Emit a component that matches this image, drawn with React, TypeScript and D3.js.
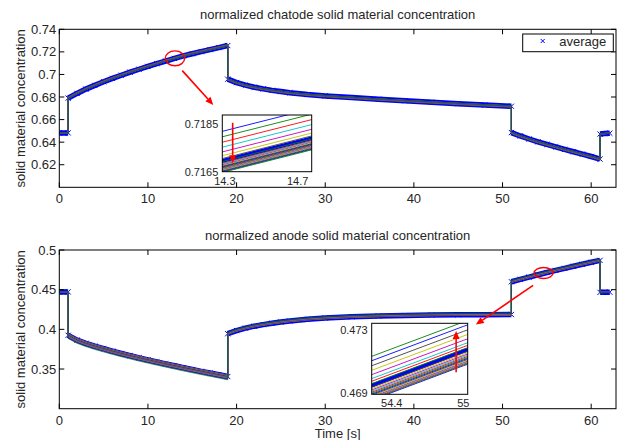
import React from "react";
import * as d3 from "d3";

// sample times [s]; a repeated time marks a current step (jump)
const timeS = [
  0, 0.5, 1,
  1, 2, 3, 4, 5, 6, 7, 8, 9, 10, 11, 12, 13, 14, 15, 16, 17, 18, 19,
  19, 20, 21, 22, 23, 24, 25, 26, 28, 30, 33, 36, 39, 42, 45, 48, 51,
  51, 52, 53, 54, 55, 56, 57, 58, 59, 60, 61,
  61, 61.5, 62.1,
];

const cathodeAvg = [
  0.6482, 0.6482, 0.6482,
  0.679, 0.6832, 0.687, 0.6903, 0.6935, 0.6965, 0.6993, 0.702, 0.7046, 0.7071, 0.7095, 0.7119, 0.7142, 0.7164, 0.71835, 0.7202, 0.722, 0.7238, 0.7256,
  0.6958, 0.6928, 0.6905, 0.6887, 0.6872, 0.6859, 0.6848, 0.6838, 0.6822, 0.681, 0.6795, 0.678, 0.6767, 0.6754, 0.6741, 0.6729, 0.6718,
  0.6485, 0.6455, 0.6428, 0.6403, 0.638, 0.6358, 0.6336, 0.6315, 0.6294, 0.6273, 0.625,
  0.6472, 0.6476, 0.6479,
];

const anodeAvg = [
  0.4472, 0.4472, 0.4472,
  0.3925, 0.3865, 0.3824, 0.3788, 0.3756, 0.3725, 0.3696, 0.3668, 0.3641, 0.3615, 0.359, 0.3565, 0.3541, 0.3517, 0.3494, 0.3471, 0.3449, 0.3427, 0.3405,
  0.3945, 0.3985, 0.4015, 0.404, 0.406, 0.4077, 0.4092, 0.4105, 0.4127, 0.4142, 0.4158, 0.4168, 0.4175, 0.418, 0.4183, 0.4185, 0.4187,
  0.46, 0.463, 0.4659, 0.4688, 0.47165, 0.4743, 0.4769, 0.4795, 0.482, 0.4845, 0.4869,
  0.4466, 0.4468, 0.4469,
];

// particle offsets from the average
const cathodeOffsets = [
  0.00125, 0.00102, 0.00079, 0.00058, 0.00038, 0.00022, 0.0001, 0.00003,
  -0.00003, -0.0001, -0.00013, -0.00017, -0.0002, -0.00023, -0.00026, -0.00029,
  -0.00032, -0.00035, -0.00038, -0.0004, -0.00043, -0.00046, -0.00049,
];
const anodeOffsets = [
  -0.00093, -0.00088, -0.00083, -0.00078, -0.00073, -0.00068, -0.00062, -0.00056,
  -0.0005, -0.00043, -0.00036, -0.00028, -0.0002, -0.0001, 0.0, 0.00012,
  0.00027, 0.00044, 0.00069, 0.00097, 0.00126, 0.00158, 0.00186,
];
// how much the particles fan out in each current segment
const cathodeSpread = [0, 1, -0.9, -1, 0.4];
const anodeSpread = [0, -2.2, 1, 1, -0.4];

const lineColors = ["#0000ff", "#008000", "#ff0000", "#00bfbf", "#bf00bf", "#bfbf00", "#404040"];
const xTicks = [0, 10, 20, 30, 40, 50, 60];
const cathodeYTicks = [0.62, 0.64, 0.66, 0.68, 0.7, 0.72, 0.74];
const anodeYTicks = [0.35, 0.4, 0.45, 0.5];

const FONT = "'Liberation Sans', Arial, Helvetica, sans-serif";
const TXT = "#262626";

const segIndex: number[] = [];
timeS.forEach((t, i) => {
  segIndex.push(i === 0 ? 0 : segIndex[i - 1] + (t === timeS[i - 1] ? 1 : 0));
});

type Pt = { t: number; v: number; s: number };

function buildSeries(avg: number[], offsets: number[], spread: number[]) {
  const avgPts: Pt[] = timeS.map((t, i) => ({ t, v: avg[i], s: segIndex[i] }));
  const lines = offsets.map((o) => avgPts.map((p) => ({ t: p.t, v: p.v + o * spread[p.s], s: p.s })));
  return { avgPts, lines };
}

function Arrow({ x1, y1, x2, y2 }: { x1: number; y1: number; x2: number; y2: number }) {
  const ang = Math.atan2(y2 - y1, x2 - x1);
  const hl = 8, hw = 3.5;
  const bx = x2 - hl * Math.cos(ang), by = y2 - hl * Math.sin(ang);
  const px = -Math.sin(ang) * hw, py = Math.cos(ang) * hw;
  return (
    <g>
      <line x1={x1} y1={y1} x2={bx} y2={by} stroke="#ff0000" strokeWidth={1.6} />
      <polygon points={`${x2},${y2} ${bx + px},${by + py} ${bx - px},${by - py}`} fill="#ff0000" />
    </g>
  );
}

type InsetCfg = {
  id: string;
  box: [number, number, number, number];
  xDomain: [number, number];
  yDomain: [number, number];
  xTicks: number[];
  yTicks: number[];
  arrow: [number, number, number, number];
};

function Inset({ cfg, series }: { cfg: InsetCfg; series: ReturnType<typeof buildSeries> }) {
  const [x0, x1, y0, y1] = cfg.box;
  const x = d3.scaleLinear().domain(cfg.xDomain).range([x0, x1]);
  const y = d3.scaleLinear().domain(cfg.yDomain).range([y1, y0]);
  const line = d3.line<Pt>().x((d) => x(d.t)).y((d) => y(d.v));
  const segs = d3.groups(series.avgPts, (d) => d.s).map((g) => g[1]);
  return (
    <g fontFamily={FONT} fill={TXT}>
      <defs>
        <clipPath id={cfg.id}>
          <rect x={x0} y={y0} width={x1 - x0} height={y1 - y0} />
        </clipPath>
      </defs>
      <rect x={x0} y={y0} width={x1 - x0} height={y1 - y0} fill="#fff" />
      <g clipPath={`url(#${cfg.id})`}>
        {segs.map((s, i) => (
          <path key={i} d={line(s) || ""} fill="none" stroke="#0000ff" strokeWidth={4} />
        ))}
        {series.lines.map((l, i) => (
          <path key={i} d={line(l) || ""} fill="none" stroke={lineColors[i % 7]} strokeWidth={0.9} />
        ))}
      </g>
      <rect x={x0} y={y0} width={x1 - x0} height={y1 - y0} fill="none" stroke="#000" strokeWidth={1} />
      {cfg.yTicks.map((v) => (
        <text key={v} x={x0 - 4} y={y(v) + 4} fontSize={11} textAnchor="end">{v}</text>
      ))}
      {cfg.xTicks.map((v) => (
        <text key={v} x={x(v)} y={y1 + 13} fontSize={11} textAnchor="middle">{v}</text>
      ))}
      <Arrow x1={x(cfg.arrow[0])} y1={y(cfg.arrow[1])} x2={x(cfg.arrow[2])} y2={y(cfg.arrow[3])} />
    </g>
  );
}

type PanelProps = {
  id: string;
  title: string;
  series: ReturnType<typeof buildSeries>;
  top: number;
  bottom: number;
  yDomain: [number, number];
  yTicks: number[];
  ellipse: [number, number, number, number];
  pointer: [number, number, number, number];
  inset: InsetCfg;
  legend?: boolean;
  xLabel?: string;
};

const LEFT = 59.3, RIGHT = 616;

function Panel(p: PanelProps) {
  const x = d3.scaleLinear().domain([0, 62.8]).range([LEFT, RIGHT]);
  const y = d3.scaleLinear().domain(p.yDomain).range([p.bottom, p.top]);
  const line = d3.line<Pt>().x((d) => x(d.t)).y((d) => y(d.v));
  const segs = d3.groups(p.series.avgPts, (d) => d.s).map((g) => g[1]);
  const m = 2.6;
  const marks = p.series.avgPts
    .map((d) => {
      const cx = x(d.t), cy = y(d.v);
      return `M${cx - m},${cy - m}L${cx + m},${cy + m}M${cx - m},${cy + m}L${cx + m},${cy - m}`;
    })
    .join("");
  const fmt = (v: number) => String(+v.toFixed(2));
  const [et, ev, erx, ery] = p.ellipse;
  return (
    <g>
      <defs>
        <clipPath id={p.id}>
          <rect x={LEFT} y={p.top} width={RIGHT - LEFT} height={p.bottom - p.top} />
        </clipPath>
      </defs>
      <text x={(LEFT + RIGHT) / 2} y={p.top - 10.5} fontFamily={FONT} fontSize={13} fill={TXT} textAnchor="middle">
        {p.title}
      </text>
      <g clipPath={`url(#${p.id})`}>
        {segs.map((s, i) => (
          <path key={i} d={line(s) || ""} fill="none" stroke="#0000ff" strokeWidth={5.5} />
        ))}
        <path d={marks} stroke="#0000ff" strokeWidth={1} fill="none" />
        {p.series.lines.map((l, i) => (
          <path key={i} d={line(l) || ""} fill="none" stroke={lineColors[i % 7]} strokeWidth={0.6} />
        ))}
      </g>
      <rect x={LEFT} y={p.top} width={RIGHT - LEFT} height={p.bottom - p.top} fill="none" stroke="#000" strokeWidth={1} />
      <g stroke="#000" strokeWidth={1}>
        {xTicks.map((t) => (
          <g key={t}>
            <line x1={x(t)} x2={x(t)} y1={p.bottom} y2={p.bottom - 5} />
            <line x1={x(t)} x2={x(t)} y1={p.top} y2={p.top + 5} />
          </g>
        ))}
        {p.yTicks.map((v) => (
          <g key={v}>
            <line x1={LEFT} x2={LEFT + 5} y1={y(v)} y2={y(v)} />
            <line x1={RIGHT} x2={RIGHT - 5} y1={y(v)} y2={y(v)} />
          </g>
        ))}
      </g>
      <g fontFamily={FONT} fontSize={13} fill={TXT}>
        {xTicks.map((t) => (
          <text key={t} x={x(t)} y={p.bottom + 16} textAnchor="middle">{t}</text>
        ))}
        {p.yTicks.map((v) => (
          <text key={v} x={LEFT - 3} y={y(v) + 4.5} textAnchor="end">{fmt(v)}</text>
        ))}
      </g>
      <text
        transform={`translate(25,${(p.top + p.bottom) / 2}) rotate(-90)`}
        fontFamily={FONT} fontSize={13} fill={TXT} textAnchor="middle"
      >
        solid material concentration
      </text>
      {p.xLabel && (
        <text x={(LEFT + RIGHT) / 2} y={p.bottom + 28.8} fontFamily={FONT} fontSize={13} fill={TXT} textAnchor="middle">
          {p.xLabel}
        </text>
      )}
      <ellipse
        cx={x(et)} cy={y(ev)} rx={x(et + erx) - x(et)} ry={y(ev - ery) - y(ev)}
        fill="none" stroke="#ff0000" strokeWidth={1.4}
      />
      <Arrow x1={x(p.pointer[0])} y1={y(p.pointer[1])} x2={x(p.pointer[2])} y2={y(p.pointer[3])} />
      <Inset cfg={p.inset} series={p.series} />
      {p.legend && (
        <g fontFamily={FONT}>
          <rect x={522.7} y={34} width={90.6} height={17.7} fill="#fff" stroke="#000" strokeWidth={1} />
          <path d="M540.7,39L544.7,43M540.7,43L544.7,39" stroke="#0000ff" strokeWidth={1} />
          <text x={559.3} y={46} fontSize={13} fill={TXT}>average</text>
        </g>
      )}
    </g>
  );
}

export default function App() {
  const cathode = buildSeries(cathodeAvg, cathodeOffsets, cathodeSpread);
  const anode = buildSeries(anodeAvg, anodeOffsets, anodeSpread);
  return (
    <div style={{ position: "absolute", left: 0, top: 0 }}>
      <svg width={626} height={440} style={{ display: "block", background: "#fff" }}>
        <Panel
          id="clipTop"
          title="normalized chatode solid material concentration"
          series={cathode}
          top={29.3}
          bottom={187.3}
          yDomain={[0.6, 0.74]}
          yTicks={cathodeYTicks}
          ellipse={[13.05, 0.7143, 1.09, 0.0066]}
          pointer={[13.87, 0.7034, 17.37, 0.673]}
          legend
          inset={{
            id: "clipInsetTop",
            box: [222.3, 311.7, 115, 171.7],
            xDomain: [14.286, 14.777],
            yDomain: [0.7165, 0.7189],
            xTicks: [14.3, 14.7],
            yTicks: [0.7185, 0.7165],
            arrow: [14.343, 0.71857, 14.343, 0.71686],
          }}
        />
        <Panel
          id="clipBottom"
          title="normalized anode solid material concentration"
          series={anode}
          top={250}
          bottom={408.7}
          yDomain={[0.3, 0.5]}
          yTicks={anodeYTicks}
          ellipse={[54.63, 0.471, 1.07, 0.007]}
          pointer={[53.45, 0.4555, 46.99, 0.406]}
          xLabel="Time [s]"
          inset={{
            id: "clipInsetBottom",
            box: [371.7, 467.7, 323.3, 394.3],
            xDomain: [54.232, 55.037],
            yDomain: [0.4689, 0.47343],
            xTicks: [54.4, 55],
            yTicks: [0.473, 0.469],
            arrow: [54.94, 0.4703, 54.94, 0.47294],
          }}
        />
      </svg>
    </div>
  );
}
